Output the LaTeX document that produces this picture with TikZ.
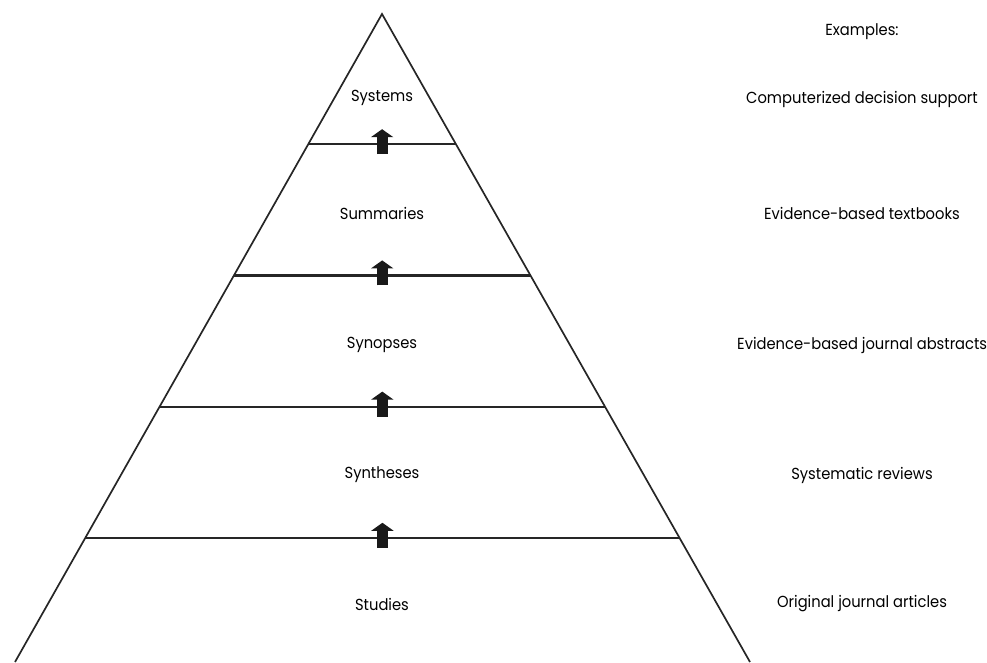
\documentclass[tikz,border=0pt]{standalone}
\usepackage{fontspec}
\setmainfont{Poppins}[FakeStretch=0.92]
\usetikzlibrary{arrows.meta,calc}
\begin{document}
\begin{tikzpicture}[x=1pt,y=1pt,
  edge/.style={line width=1.7pt,black!85},
  layer/.style={line width=2.2pt,black!85},
  uparrow/.style={line width=11pt,-{Triangle[width=22pt,length=8pt]},black!90},
  lbl/.style={font=\fontsize{16}{18}\selectfont,inner sep=0pt,anchor=center},
  ex/.style={font=\fontsize{16}{18}\selectfont,inner sep=0pt,anchor=center}]
\useasboundingbox (0,0) rectangle (987,662);
\begin{scope}
\clip (0,0) rectangle (987,662);
\coordinate (apex) at (382,648);
\coordinate (bl) at (15,0);
\coordinate (br) at (750,0);
\draw[edge] (bl) -- (apex) -- (br);
% layer lines (image y = 145, 276, 407, 538 ; t=(y-15)/647)
\foreach \n/\t in {1/0.2009,2/0.4034,3/0.6059,4/0.8083}{
  \coordinate (L\n) at ($(apex)!\t!(bl)$);
  \coordinate (R\n) at ($(apex)!\t!(br)$);
  \draw[layer] (L\n) -- (R\n);
  \coordinate (m\n) at ($(L\n)!0.5!(R\n)$);
  \coordinate (as\n) at ($(m\n)+(0,-10)$);
  \coordinate (ae\n) at ($(m\n)+(0,15)$);
  \draw[uparrow] (as\n) -- (ae\n);
}
\end{scope}
\node[lbl] (systems) at (382,564) {Systems};
\node[lbl] (summaries) at (382,449) {Summaries};
\node[lbl] (synopses) at (382,317) {Synopses};
\node[lbl] (syntheses) at (382,187) {Syntheses};
\node[lbl] (studies) at (382,58) {Studies};
\node[ex] (examples) at (862,630) {Examples:};
\node[ex] (e1) at (862,563) {Computerized decision support};
\node[ex] (e2) at (862,449) {Evidence-based textbooks};
\node[ex,anchor=west] (e3) at (737,317) {Evidence-based journal abstracts};
\node[ex] (e4) at (862,187) {Systematic reviews};
\node[ex] (e5) at (862,58) {Original journal articles};
\end{tikzpicture}
\end{document}
